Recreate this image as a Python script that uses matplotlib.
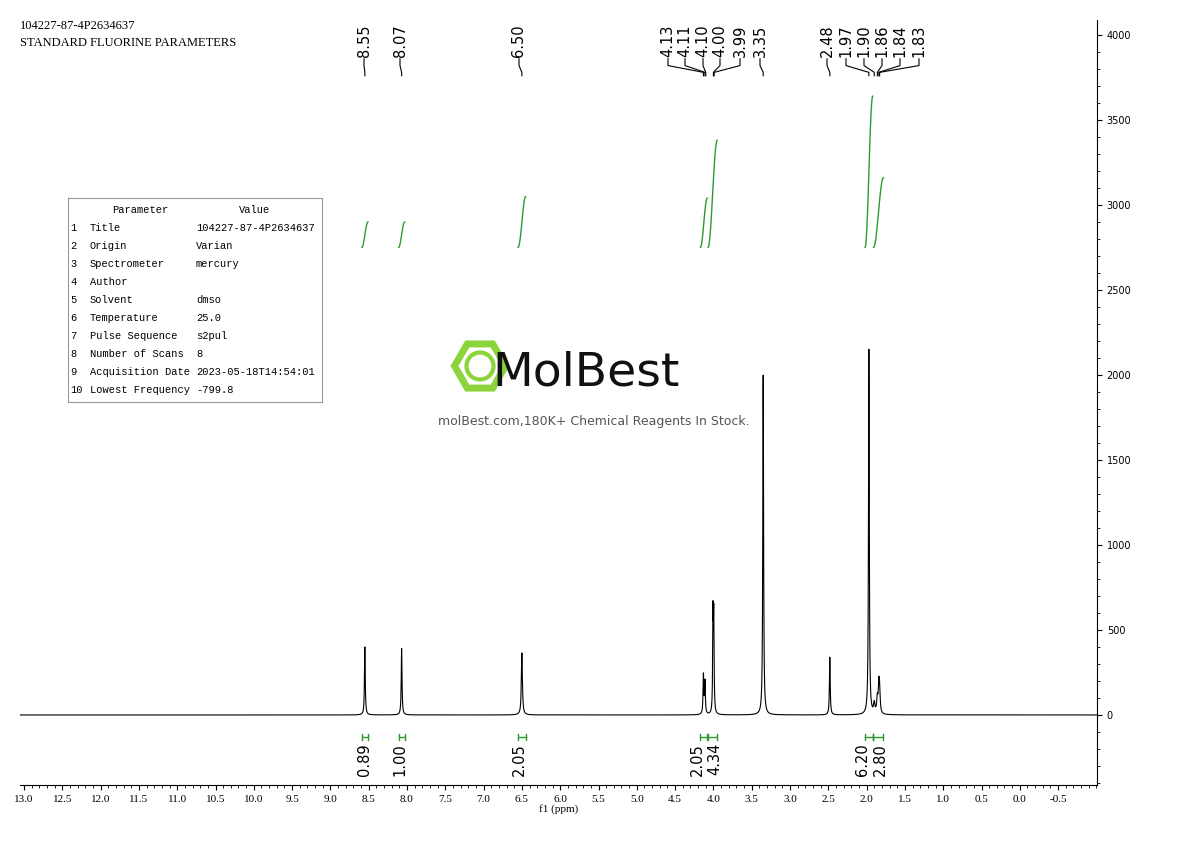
import matplotlib
matplotlib.use("Agg")
import matplotlib.pyplot as plt
import numpy as np
from matplotlib.patches import RegularPolygon, Circle

peak_ppm = [8.55, 8.07, 6.50, 4.13, 4.11, 4.005, 3.995, 3.35, 2.48, 1.97, 1.90, 1.86, 1.84, 1.83]
peak_h   = [400, 390, 365, 230, 190, 560, 540, 2000, 340, 2150, 60, 90, 150, 130]
peak_w   = [0.006, 0.006, 0.008, 0.006, 0.006, 0.005, 0.005, 0.006, 0.006, 0.006, 0.01, 0.01, 0.008, 0.008]

label_vals = ["8.55", "8.07", "6.50", "4.13", "4.11", "4.10", "4.00", "3.99", "3.35", "2.48", "1.97", "1.90", "1.86", "1.84", "1.83"]
label_true = [8.55, 8.07, 6.50, 4.13, 4.11, 4.10, 4.00, 3.99, 3.35, 2.48, 1.97, 1.90, 1.86, 1.84, 1.83]
label_pix = [364, 400, 519, 668, 685, 703, 720, 740, 760, 827, 846, 864, 882, 900, 919]

int_vals = ["0.89", "1.00", "2.05", "2.05", "4.34", "6.20", "2.80"]
int_lo = [8.59, 8.11, 6.55, 4.17, 4.07, 2.02, 1.91]
int_hi = [8.51, 8.03, 6.45, 4.08, 3.95, 1.92, 1.78]
int_pix = [364, 400, 519, 697, 715, 862, 880]
int_top = [2900, 2900, 3050, 3040, 3380, 3640, 3160]

params = [("1", "Title", "104227-87-4P2634637"), ("2", "Origin", "Varian"),
          ("3", "Spectrometer", "mercury"), ("4", "Author", ""), ("5", "Solvent", "dmso"),
          ("6", "Temperature", "25.0"), ("7", "Pulse Sequence", "s2pul"),
          ("8", "Number of Scans", "8"), ("9", "Acquisition Date", "2023-05-18T14:54:01"),
          ("10", "Lowest Frequency", "-799.8")]

def px2ppm(x):
    return 13.0 - (x - 24) / 76.6

fig = plt.figure(figsize=(11.9, 8.41), dpi=100)
ax = fig.add_axes([20/1190, 56/841, 1077/1190, 765/841])
x0, x1 = px2ppm(20), px2ppm(1097)
ax.set_xlim(x0, x1)
ax.set_ylim(-412, 4088)

x = np.linspace(x1, x0, 40000)
y = np.zeros_like(x)
for p, h, w in zip(peak_ppm, peak_h, peak_w):
    y += h * w**2 / ((x - p)**2 + w**2)
ax.plot(x, y, color="black", lw=0.8)

green = "#2e9a2e"
base = 2750
for lo, hi, top in zip(int_lo, int_hi, int_top):
    xs = np.linspace(lo, hi, 100)
    t = (lo - xs) / (lo - hi)
    ys = base + (top - base) * (0.5 - 0.5*np.cos(np.pi*t))
    ax.plot(xs, ys, color=green, lw=1)

for v, lo, hi, px in zip(int_vals, int_lo, int_hi, int_pix):
    ax.plot([lo, hi], [-129, -129], color=green, lw=1)
    for e in (lo, hi):
        ax.plot([e, e], [-110, -148], color=green, lw=1)
    ax.text(px2ppm(px), -165, v, rotation=90, ha="center", va="top", fontsize=10.5)

for s, tv, px in zip(label_vals, label_true, label_pix):
    lx = px2ppm(px)
    ax.text(lx, 3870, s, rotation=90, ha="center", va="bottom", fontsize=10.5)
    ax.plot([lx, lx, tv, tv], [3860, 3820, 3780, 3760], color="black", lw=0.8)

for sp in ("top", "left"):
    ax.spines[sp].set_visible(False)
ax.yaxis.tick_right()
ax.set_yticks(np.arange(0, 4001, 500))
ax.set_yticks(np.arange(-400, 4001, 100), minor=True)
ax.set_xticks(np.arange(-0.5, 13.01, 0.5))
ax.set_xticks(np.arange(-1.0, 13.01, 0.1), minor=True)
ax.set_xticklabels(["%.1f" % v for v in np.arange(-0.5, 13.01, 0.5)],
                   family="Liberation Serif", fontsize=8)
ax.tick_params(axis="y", labelsize=7)
ax.set_xlabel("f1 (ppm)", family="Liberation Serif", fontsize=8, labelpad=0)

fig.text(20/1190, 1-26/841, "104227-87-4P2634637", family="Liberation Serif", fontsize=9, va="center")
fig.text(20/1190, 1-43/841, "STANDARD FLUORINE PARAMETERS", family="Liberation Serif", fontsize=9, va="center")

tb = fig.add_axes([68/1190, 1-402/841, 254/1190, 204/841])
tb.set_xlim(0, 254); tb.set_ylim(204, 0)
tb.set_xticks([]); tb.set_yticks([])
for sp in tb.spines.values():
    sp.set_color("#999999")
tf = dict(va="center", family="Liberation Mono", fontsize=7.5)
tb.text(72, 12, "Parameter", ha="center", **tf)
tb.text(187, 12, "Value", ha="center", **tf)
for i, (n, k, v) in enumerate(params):
    yy = 30 + i*18
    tb.text(2, yy, n, **tf)
    tb.text(22, yy, k, **tf)
    tb.text(128, yy, v, **tf)

lg = fig.add_axes([450/1190, 1-396/841, 60/1190, 60/841])
lg.set_xlim(-1, 1); lg.set_ylim(-1, 1); lg.axis("off")
lg.add_patch(RegularPolygon((0, 0), 6, radius=0.85, orientation=np.pi/6, fill=False, ec="#8cd43c", lw=5))
lg.add_patch(Circle((0, 0), 0.45, fill=False, ec="#8cd43c", lw=3))
fig.text(586/1190, 1-373/841, "MolBest", fontsize=34, ha="center", va="center", color="#111111")
fig.text(594/1190, 1-421/841, "molBest.com,180K+ Chemical Reagents In Stock.", fontsize=9,
         ha="center", va="center", color="#555555")

fig.savefig("out.png", dpi=100)
